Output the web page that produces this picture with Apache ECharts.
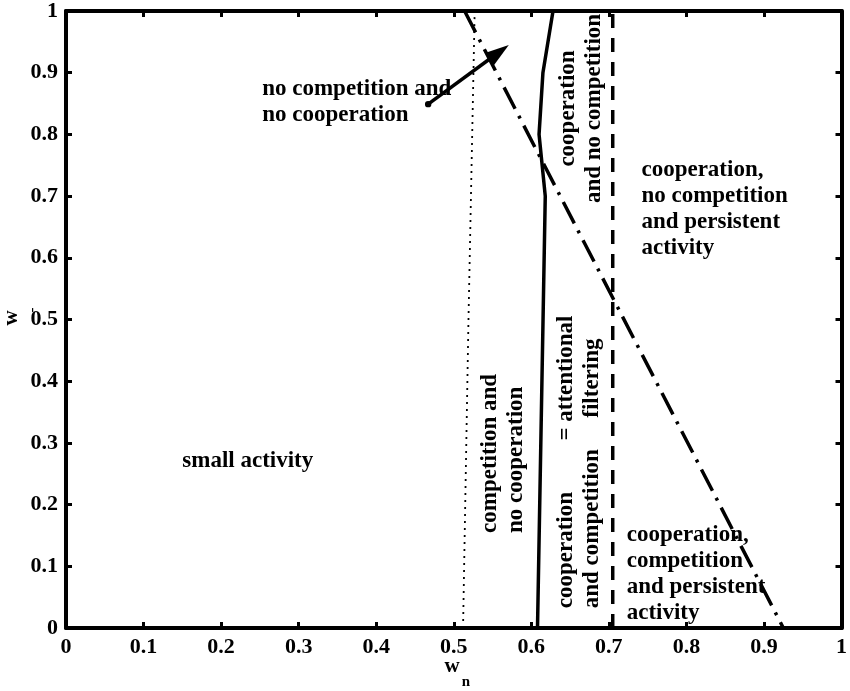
<!DOCTYPE html>
<html>
<head>
<meta charset="utf-8">
<script src="https://cdn.jsdelivr.net/npm/echarts@6/dist/echarts.min.js"></script>
<style>
  html, body { margin: 0; padding: 0; background: #fff; }
  #chart { width: 850px; height: 691px; }
</style>
</head>
<body>
<div id="chart"></div>
<script>
// Tick values and their printed labels
const tickValues = [0, 0.1, 0.2, 0.3, 0.4, 0.5, 0.6, 0.7, 0.8, 0.9, 1];
const xTickLabels = ['0', '0.1', '0.2', '0.3', '0.4', '0.5', '0.6', '0.7', '0.8', '0.9', '1'];
const yTickLabels = ['0', '0.1', '0.2', '0.3', '0.4', '0.5', '0.6', '0.7', '0.8', '0.9', '1'];

// Boundary curves in the (w_n, w_-) plane
const dottedWn = [0.512, 0.519, 0.527];
const dottedWm = [0, 0.5, 1];

const solidWn = [0.608, 0.618, 0.610, 0.615, 0.628];
const solidWm = [0, 0.7, 0.8, 0.9, 1];

const dashedWn = [0.705, 0.705];
const dashedWm = [0, 1];

const dashDotWn = [0.514, 0.925];
const dashDotWm = [1, 0];

// Arrow from the label to the narrow region near the top: tail and tip
const arrowFrom = [0.467, 0.849];
const arrowTip = [0.571, 0.945];

// Region annotations: text, anchor (w_n, w_-), rotation, alignment
const noteTexts = [
  'no competition and\nno cooperation',
  'small activity',
  'competition and\nno cooperation',
  'cooperation\nand competition',
  '= attentional\nfiltering',
  'cooperation\nand no competition',
  'cooperation,\nno competition\nand persistent\nactivity',
  'cooperation,\ncompetition\nand persistent\nactivity'
];
const noteWn = [0.253, 0.150, 0.5635, 0.662, 0.662, 0.664, 0.742, 0.723];
const noteWm = [0.852, 0.270, 0.154, 0.032, 0.405, 0.842, 0.679, 0.0875];
const noteRotate = [0, 0, 90, 90, 90, 90, 0, 0];
const noteAlign = ['left', 'left', 'left', 'left', 'center', 'center', 'left', 'left'];

const FONT = '"Liberation Serif", "Times New Roman", serif';
const toPairs = (xs, ys) => xs.map((x, i) => [x, ys[i]]);

function valueAxis(position, showLabels, labels) {
  return {
    type: 'value',
    min: 0,
    max: 1,
    interval: 0.1,
    position: position,
    axisLine: { show: true, onZero: false, lineStyle: { color: '#000', width: 4 } },
    axisTick: { show: true, inside: true, length: 6, lineStyle: { color: '#000', width: 3 } },
    axisLabel: {
      show: showLabels,
      color: '#000',
      fontFamily: FONT,
      fontWeight: 'bold',
      fontSize: 22,
      margin: 8,
      formatter: v => labels[tickValues.findIndex(t => Math.abs(t - v) < 1e-6)]
    },
    splitLine: { show: false }
  };
}

const chart = echarts.init(document.getElementById('chart'), null, { renderer: 'canvas' });

const curveSeries = (name, xs, ys, width, type) => ({
  name: name,
  type: 'line',
  data: toPairs(xs, ys),
  showSymbol: false,
  symbol: 'none',
  silent: true,
  lineStyle: { color: '#000', width: width, type: type, cap: 'butt', opacity: 1 },
  z: 3
});

const noteSeries = noteTexts.map((t, i) => ({
  type: 'scatter',
  data: [[noteWn[i], noteWm[i]]],
  symbol: 'circle',
  symbolSize: 0.01,
  itemStyle: { color: 'transparent', opacity: 1 },
  silent: true,
  z: 5,
  label: {
    show: true,
    position: 'inside',
    formatter: t,
    rotate: noteRotate[i],
    align: noteAlign[i],
    verticalAlign: 'middle',
    color: '#000',
    opacity: 1,
    textBorderWidth: 0,
    fontFamily: FONT,
    fontWeight: 'bold',
    fontSize: 23,
    lineHeight: 26
  }
}));

// Arrow: shaft, filled head and a small dot at the tail
function renderArrow(params, api) {
  const p0 = api.coord([api.value(0), api.value(1)]);
  const p1 = api.coord([api.value(2), api.value(3)]);
  const dx = p1[0] - p0[0], dy = p1[1] - p0[1];
  const len = Math.hypot(dx, dy);
  const ux = dx / len, uy = dy / len;
  const nx = -uy, ny = ux;
  const headLen = 24, headHalf = 7.5;
  const bx = p1[0] - ux * headLen, by = p1[1] - uy * headLen;
  return {
    type: 'group',
    children: [
      { type: 'line', shape: { x1: p0[0], y1: p0[1], x2: bx + ux * 4, y2: by + uy * 4 },
        style: { stroke: '#000', lineWidth: 3.5 } },
      { type: 'polygon', shape: { points: [p1, [bx + nx * headHalf, by + ny * headHalf], [bx - nx * headHalf, by - ny * headHalf]] },
        style: { fill: '#000' } },
      { type: 'circle', shape: { cx: p0[0], cy: p0[1], r: 3.2 }, style: { fill: '#000' } }
    ]
  };
}

chart.setOption({
  animation: false,
  backgroundColor: '#fff',
  grid: { left: 66, right: 4, top: 11, bottom: 63, containLabel: false },
  xAxis: [valueAxis('bottom', true, xTickLabels), valueAxis('top', false, xTickLabels)],
  yAxis: [valueAxis('left', true, yTickLabels), valueAxis('right', false, yTickLabels)],
  series: [
    curveSeries('dotted', dottedWn, dottedWm, 1.8, [2, 5]),
    curveSeries('solid', solidWn, solidWm, 3.5, 'solid'),
    curveSeries('dashed', dashedWn, dashedWm, 3.5, [14, 10]),
    curveSeries('dashdot', dashDotWn, dashDotWm, 3.5, [24, 8, 3, 8]),
    {
      type: 'custom',
      silent: true,
      renderItem: renderArrow,
      encode: { x: [0, 2], y: [1, 3] },
      data: [[arrowFrom[0], arrowFrom[1], arrowTip[0], arrowTip[1]]],
      z: 4
    },
    ...noteSeries
  ],
  graphic: [
    { type: 'text', x: 452, y: 667, style: { text: 'w', font: 'bold 21px ' + FONT, fill: '#000', align: 'center', verticalAlign: 'middle' } },
    { type: 'text', x: 466, y: 682, style: { text: 'n', font: 'bold 15px ' + FONT, fill: '#000', align: 'center', verticalAlign: 'middle' } },
    { type: 'text', x: 12, y: 318, rotation: Math.PI / 2, style: { text: 'w', font: 'bold 21px ' + FONT, fill: '#000', align: 'center', verticalAlign: 'middle' } },
    { type: 'text', x: 32, y: 310, rotation: Math.PI / 2, style: { text: '-', font: 'bold 15px ' + FONT, fill: '#000', align: 'center', verticalAlign: 'middle' } }
  ]
});
</script>
</body>
</html>
